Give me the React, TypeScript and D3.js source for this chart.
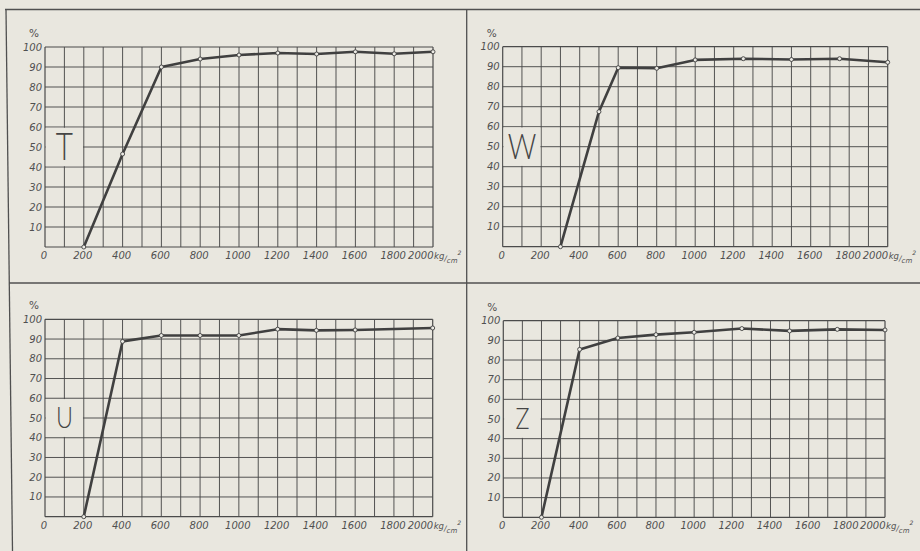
import React from 'react';
import * as d3 from 'd3';

// ---- data ----
const X_TICKS = [0, 200, 400, 600, 800, 1000, 1200, 1400, 1600, 1800, 2000];
const Y_TICKS = [10, 20, 30, 40, 50, 60, 70, 80, 90, 100];
const X_GRID = [0, 100, 200, 300, 400, 500, 600, 700, 800, 900, 1000, 1100, 1200, 1300, 1400, 1500, 1600, 1700, 1800, 1900, 2000];
const Y_GRID = [0, 10, 20, 30, 40, 50, 60, 70, 80, 90, 100];

const T_X = [200, 400, 600, 800, 1000, 1200, 1400, 1600, 1800, 2000];
const T_Y = [0, 46.5, 90, 94, 96, 97, 96.5, 97.6, 96.6, 97.6];

const W_X = [300, 500, 600, 800, 1000, 1250, 1500, 1750, 2000];
const W_Y = [0, 67.5, 89.5, 89.2, 93.4, 94, 93.6, 94, 92.2];

const U_X = [200, 400, 600, 800, 1000, 1200, 1400, 1600, 2000];
const U_Y = [0, 88.8, 91.8, 91.8, 91.8, 95, 94.4, 94.6, 95.6];

const Z_X = [200, 400, 600, 800, 1000, 1250, 1500, 1750, 2000];
const Z_Y = [0, 85.4, 91.2, 92.9, 94.1, 96, 94.8, 95.6, 95.3];

const LETTERS = ['T', 'W', 'U', 'Z'];

// ---- layout / style ----
const W = 920;
const H = 551;
const BG = '#e9e7df';
const INK = '#4b4b4b';
const TEXT = '#505050';

const BOXES = [
  { x0: 45, x1: 433, yTop: 47, yBot: 247, fs: 38 },
  { x0: 502.7, x1: 887.7, yTop: 46.7, yBot: 246.7, fs: 36 },
  { x0: 45, x1: 432.7, yTop: 319.3, yBot: 516.7, fs: 30 },
  { x0: 503.3, x1: 885, yTop: 320.7, yBot: 517.3, fs: 30 },
];

const SERIES = [
  { xs: T_X, ys: T_Y },
  { xs: W_X, ys: W_Y },
  { xs: U_X, ys: U_Y },
  { xs: Z_X, ys: Z_Y },
];

const labelFont = '"DejaVu Sans", sans-serif';

function Panel({ idx }: { idx: number }) {
  const b = BOXES[idx];
  const s = SERIES[idx];
  const letter = LETTERS[idx];
  const x = d3.scaleLinear().domain([0, 2000]).range([b.x0, b.x1]);
  const y = d3.scaleLinear().domain([0, 100]).range([b.yBot, b.yTop]);
  const pts: [number, number][] = s.xs.map((v, i) => [v, s.ys[i]]);
  const line = d3
    .line<[number, number]>()
    .x((d) => x(d[0]))
    .y((d) => y(d[1]))
    .curve(d3.curveLinear);

  const mx0 = x(0) + 0.8;
  const mx1 = x(200) - 0.8;
  const my0 = y(60) + 0.8;
  const my1 = y(40) - 0.8;
  const lcx = (x(0) + x(200)) / 2;
  const lcy = y(50) - 2;

  return (
    <g>
      {X_GRID.map((v) => (
        <line key={'vx' + v} x1={x(v)} x2={x(v)} y1={y(0)} y2={y(100)} stroke={INK} strokeWidth={v === 0 || v === 2000 ? 1.2 : 0.95} />
      ))}
      {Y_GRID.map((v) => (
        <line key={'hy' + v} x1={x(0)} x2={x(2000)} y1={y(v)} y2={y(v)} stroke={INK} strokeWidth={v === 0 || v === 100 ? 1.2 : 0.95} />
      ))}
      <rect x={mx0} y={my0} width={mx1 - mx0} height={my1 - my0} fill={BG} />
      <text
        x={0}
        y={0}
        transform={`translate(${lcx},${lcy}) scale(0.78,1)`}
        textAnchor="middle"
        dominantBaseline="central"
        fontFamily='Lato, "Open Sans", sans-serif'
        fontWeight={300}
        fontSize={b.fs}
        fill="#454545"
      >
        {letter}
      </text>
      {Y_TICKS.map((v) => (
        <text key={'yl' + v} x={x(0) - 3} y={y(v)} textAnchor="end" dominantBaseline="central" fontFamily={labelFont} fontStyle="italic" fontSize={10} fill={TEXT}>
          {v}
        </text>
      ))}
      <text x={x(0) - 11} y={b.yTop - 14} textAnchor="middle" dominantBaseline="central" fontFamily={labelFont} fontSize={10.5} fill={TEXT}>
        %
      </text>
      {X_TICKS.map((v) => (
        <text
          key={'xl' + v}
          x={v === 2000 ? x(v) + 0.5 : x(v) - 1}
          y={b.yBot + 12}
          textAnchor={v === 2000 ? 'end' : 'middle'}
          fontFamily={labelFont}
          fontStyle="italic"
          fontSize={10}
          fill={TEXT}
        >
          {v}
        </text>
      ))}
      <text x={x(2000) + 1} y={b.yBot + 12} fontFamily={labelFont} fontStyle="italic" fontSize={8.5} fill={TEXT}>
        kg
        <tspan fontSize={7.5} dy={2}>/</tspan>
        <tspan fontSize={7} dy={2}>cm</tspan>
        <tspan fontSize={6} dy={-8}>2</tspan>
      </text>
      <path d={line(pts) || ''} fill="none" stroke="#404040" strokeWidth={2.6} strokeLinejoin="round" />
      {pts.map((p, i) => (
        <circle key={'pt' + i} cx={x(p[0])} cy={y(p[1])} r={2} fill="#ecebe5" stroke="#404040" strokeWidth={0.9} />
      ))}
    </g>
  );
}

export default function App() {
  return (
    <svg width={W} height={H} style={{ position: 'absolute', left: 0, top: 0, display: 'block' }}>
      <rect x={0} y={0} width={W} height={H} fill={BG} />
      <line x1={5} x2={W} y1={9.5} y2={9.5} stroke="#505050" strokeWidth={1.3} />
      <line x1={6} x2={12.5} y1={9.5} y2={H} stroke="#505050" strokeWidth={1.3} />
      <line x1={9} x2={W} y1={283} y2={283} stroke="#505050" strokeWidth={1.3} />
      <line x1={466.7} x2={466.7} y1={9.5} y2={H} stroke="#505050" strokeWidth={1.3} />
      {[0, 1, 2, 3].map((i) => (
        <Panel key={i} idx={i} />
      ))}
    </svg>
  );
}
